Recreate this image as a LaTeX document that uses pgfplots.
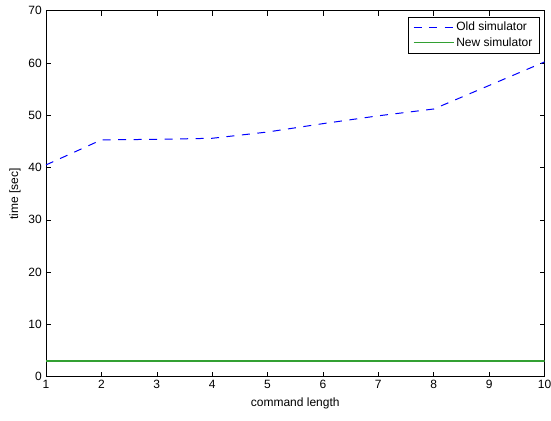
\documentclass[border=0pt]{standalone}
\usepackage{fontspec}
\setmainfont{Liberation Sans}
\usepackage{pgfplots}
\pgfplotsset{compat=1.18}
\usetikzlibrary{calc}
\definecolor{oldblue}{RGB}{0,0,255}
\definecolor{newgreen}{RGB}{50,160,50}

\begin{document}
\fontsize{12bp}{14bp}\selectfont
\begin{tikzpicture}
\begin{axis}[
    scale only axis,
    width=498.5bp,
    height=366bp,
    xmin=1, xmax=10,
    ymin=0, ymax=70,
    xtick={1,2,...,10},
    ytick={0,10,...,70},
    tick align=inside,
    major tick length=5bp,
    tick style={black, line width=0.5pt},
    axis line style={line width=0.7pt},
    xlabel={command length},
    ylabel={time [sec]},
    every axis x label/.style={at={(rel axis cs:0.5,0)}, yshift=-27bp},
    every axis y label/.style={at={(rel axis cs:0,0.5)}, rotate=90, yshift=31bp},
    tick label style={font=\fontsize{12bp}{14bp}\selectfont},
    label style={font=\fontsize{12bp}{14bp}\selectfont},
    /pgf/number format/assume math mode=true,
    xticklabel style={yshift=1bp},
    legend style={
        at={(1,1)}, anchor=north east, xshift=-5bp, yshift=-6bp,
        font=\fontsize{12bp}{14bp}\selectfont,
        inner xsep=5bp, inner ysep=3bp, row sep=1bp
    },
    legend cell align=left,
    legend image code/.code={\draw[#1] (0bp,0bp) -- (40bp,0bp);},
]
\addplot[draw=oldblue, dash pattern=on 8bp off 7.5bp, line width=1bp] coordinates {
  (1,40.5) (2,45.3) (3,45.4) (4,45.6) (5,46.8) (6,48.4) (7,49.9) (8,51.2) (9,55.7) (10,60.2)
};
\addlegendentry{Old simulator\hspace{9bp}}
\addplot[draw=newgreen, solid, line width=1.2bp] coordinates {
  (1,3.0) (2,3.0) (3,3.0) (4,3.0) (5,3.0) (6,3.0) (7,3.0) (8,3.0) (9,3.0) (10,3.0)
};
\addlegendentry{New simulator\hspace{9bp}}
\coordinate (bl) at (rel axis cs:0,0);
\coordinate (tr) at (rel axis cs:1,1);
\end{axis}
\pgfresetboundingbox
\path ($(bl)+(-46bp,-43.3bp)$) rectangle ($(tr)+(6.5bp,10.7bp)$);
\end{tikzpicture}
\end{document}
